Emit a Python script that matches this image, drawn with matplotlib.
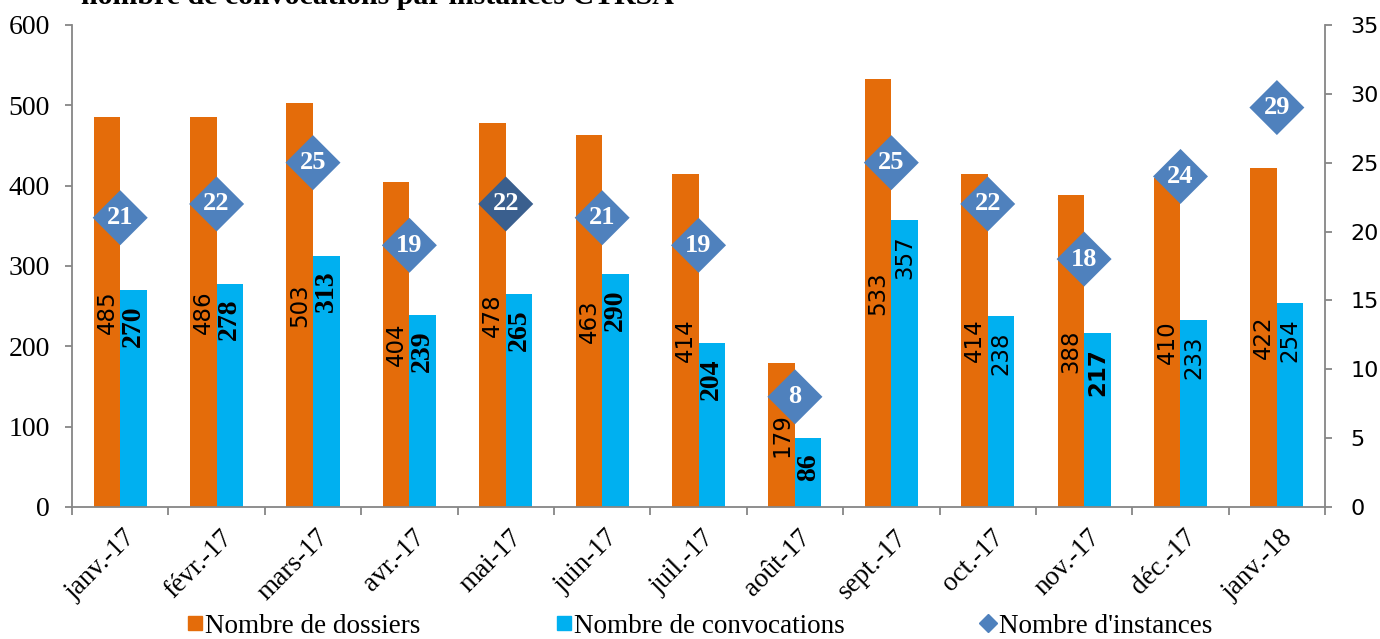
import numpy as np
import matplotlib
matplotlib.use("Agg")
import matplotlib.pyplot as plt
from matplotlib.lines import Line2D
from matplotlib.transforms import ScaledTranslation

# données ======================================================================
mois = ["janv.-17", "févr.-17", "mars-17", "avr.-17", "mai-17", "juin-17",
        "juil.-17", "août-17", "sept.-17", "oct.-17", "nov.-17", "déc.-17",
        "janv.-18"]
dossiers = [485, 486, 503, 404, 478, 463, 414, 179, 533, 414, 388, 410, 422]
convocations = [270, 278, 313, 239, 265, 290, 204, 86, 357, 238, 217, 233, 254]
instances = [21, 22, 25, 19, 22, 21, 19, 8, 25, 22, 18, 24, 29]

# style des étiquettes de convocations (mélange comme dans l'original)
conv_family = ["Liberation Serif"] * 8 + ["DejaVu Sans"] * 5
conv_weight = ["bold"] * 8 + ["normal", "normal", "bold", "normal", "normal"]

ORANGE = "#E46C0A"
BLEU = "#00B0F0"
LOSANGE = "#4F81BD"
LOSANGE_FONCE = "#3A5F8E"
GRIS = "#868686"
SERIF = "Liberation Serif"

fig = plt.figure(figsize=(13.8, 6.39), dpi=100)
ax = fig.add_axes([0.0522, 0.2066, 0.9080, 0.7544])
ax2 = ax.twinx()

x = np.arange(len(mois))
w = 0.275
ax.bar(x - w / 2, dossiers, w, color=ORANGE, zorder=2)
ax.bar(x + w / 2, convocations, w, color=BLEU, zorder=2)

for i in range(len(mois)):
    ax.text(x[i] - w / 2, dossiers[i] / 2, str(dossiers[i]), rotation=90,
            ha="center", va="center", fontsize=16.5, family="DejaVu Sans",
            zorder=3)
    fs = 20 if conv_family[i] == SERIF else 16.5
    ax.annotate(str(convocations[i]), (x[i] + w / 2, convocations[i]),
                xytext=(0, -11), textcoords="offset points", rotation=90,
                ha="center", va="top", fontsize=fs, family=conv_family[i],
                weight=conv_weight[i], zorder=3)

couleurs = [LOSANGE] * len(mois)
couleurs[4] = LOSANGE_FONCE
ax2.scatter(x, instances, marker="D", s=28 ** 2, c=couleurs, linewidths=0,
            zorder=4)
for i in range(len(mois)):
    ax2.text(x[i], instances[i], str(instances[i]), ha="center", va="center",
             fontsize=19, family=SERIF, weight="bold", color="white", zorder=5)

# axes
ax.set_xlim(-0.5, len(mois) - 0.5)
ax.set_ylim(0, 600)
ax2.set_ylim(0, 35)
ax.set_yticks(range(0, 601, 100))
ax2.set_yticks(range(0, 36, 5))

for a in (ax, ax2):
    a.spines["top"].set_visible(False)
    for s in ("left", "right", "bottom"):
        a.spines[s].set_color(GRIS)
        a.spines[s].set_linewidth(1.3)
ax.spines["right"].set_visible(False)
ax2.spines["left"].set_visible(False)
ax2.spines["bottom"].set_visible(False)

ax.tick_params(axis="y", length=5, width=1.3, color=GRIS, pad=11,
               labelsize=20)
for t in ax.get_yticklabels():
    t.set_family(SERIF)
ax2.tick_params(axis="y", length=5, width=1.3, color=GRIS, pad=13,
                labelsize=16)
for t in ax2.get_yticklabels():
    t.set_family("DejaVu Sans")

ax.set_xticks(x)
ax.set_xticks(np.arange(-0.5, len(mois), 1), minor=True)
ax.tick_params(axis="x", which="major", length=0, pad=0)
ax.tick_params(axis="x", which="minor", length=6, width=1.3, color=GRIS)
ax.set_xticklabels(mois, rotation=45, ha="right", va="center",
                   rotation_mode="anchor", fontsize=19.5, family=SERIF)
decal = ScaledTranslation(0.12, -0.27, fig.dpi_scale_trans)
for t in ax.get_xticklabels():
    t.set_transform(t.get_transform() + decal)

# titre coupé en haut comme dans l'image
fig.text(0.059, 0.993, "nombre de convocations par instances CTRSA",
         fontsize=21.5, family=SERIF, weight="bold", va="baseline")

# légende
poignees = [
    Line2D([], [], marker="s", ls="none", color=ORANGE, ms=10),
    Line2D([], [], marker="s", ls="none", color=BLEU, ms=10),
    Line2D([], [], marker="D", ls="none", color=LOSANGE, ms=9),
]
fig.legend(poignees, ["Nombre de dossiers", "Nombre de convocations",
                      "Nombre d'instances"],
           loc="center", bbox_to_anchor=(0.507, 0.02), ncol=3,
           frameon=False, prop={"family": SERIF, "size": 19.5},
           handlelength=0.55, handletextpad=0.12, columnspacing=5.0,
           borderpad=0, borderaxespad=0)

fig.savefig("out.png", dpi=100)
